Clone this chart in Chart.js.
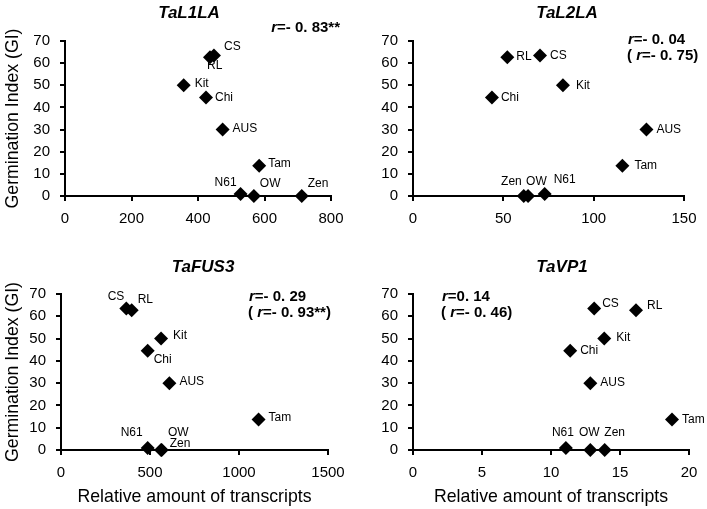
<!DOCTYPE html>
<html>
<head>
<meta charset="utf-8">
<script src="https://cdn.jsdelivr.net/npm/chart.js@4/dist/chart.umd.min.js"></script>
<style>
  html, body { margin: 0; padding: 0; background: #fff; }
  #wrap { position: relative; width: 707px; height: 509px; overflow: hidden; }
  #wrap canvas { position: absolute; left: 0; top: 0; pointer-events: none; }
</style>
</head>
<body>
<div id="wrap">
  <canvas id="c1" width="707" height="509"></canvas>
  <canvas id="c2" width="707" height="509"></canvas>
  <canvas id="c3" width="707" height="509"></canvas>
  <canvas id="c4" width="707" height="509"></canvas>
</div>
<script>
// ---------- data ----------
const cultivars = ['CS', 'RL', 'Kit', 'Chi', 'AUS', 'Tam', 'N61', 'OW', 'Zen'];
const germinationIndex = [63.5, 62.7, 50, 44.5, 30, 13.7, 0.9, 0, 0];
const taL1LA = [448, 436, 357, 424, 474, 584, 528, 568, 712];
const taL2LA = [70.3, 52.2, 83, 43.7, 129.2, 115.9, 72.9, 63.7, 61.3];
const taFUS3 = [367, 397, 562, 487, 609, 1110, 487, 562, 566];
const taVP1 = [13.13, 16.16, 13.86, 11.39, 12.85, 18.77, 11.08, 12.85, 13.89];
const geneNames = ['TaL1LA', 'TaL2LA', 'TaFUS3', 'TaVP1'];
const rMain = ['=- 0. 83**', '=- 0. 04', '=- 0. 29', '=0. 14'];
const rAlt = [null, '=- 0. 75)', '=- 0. 93**)', '=- 0. 46)'];
const xTickSteps = [200, 50, 500, 5];
const xMaxima = [800, 150, 1500, 20];
const yTickStep = 10;
const yMax = 70;
const yAxisTitle = 'Germination Index (GI)';
const xAxisTitle = 'Relative amount of transcripts';

// ---------- layout / style ----------
const FONT = "'Liberation Sans', Arial, sans-serif";
const LABEL_FONT = "'Liberation Sans Narrow', 'Liberation Sans', Arial, sans-serif";
const panels = [
  { area: [65, 331, 41, 196], title: [189, 13], ann: [340, 28, 'right'], yTitle: true, xTitle: false },
  { area: [413, 684, 41, 196], title: [567, 13], ann: [628, 40, 'left'], yTitle: false, xTitle: false },
  { area: [61, 328, 294, 450], title: [203, 267], ann: [249, 297, 'left'], yTitle: true, xTitle: true },
  { area: [413, 689, 294, 450], title: [562, 267], ann: [442, 297, 'left'], yTitle: false, xTitle: true }
];
// label offsets relative to each point: [dx, dy, align]
const labelOffsets = [
  [[10,-9,'left'],[-3,9,'left'],[11,-2,'left'],[9,0,'left'],[10,-1,'left'],[9,-2,'left'],[-4,-11,'right'],[6,-12,'left'],[6,-12,'left']],
  [[10,0,'left'],[9,0,'left'],[13,0,'left'],[9,0,'left'],[10,0,'left'],[12,0,'left'],[9,-14,'left'],[-2,-14,'left'],[-2,-14,'right']],
  [[-2,-12,'right'],[6,-11,'left'],[12,-3,'left'],[6,9,'left'],[10,-1,'left'],[10,-2,'left'],[-5,-15,'right'],[7,-17,'left'],[8,-6,'left']],
  [[8,-5,'left'],[11,-5,'left'],[12,-1,'left'],[10,0,'left'],[10,0,'left'],[10,0,'left'],[-3,-15,'center'],[-1,-17,'center'],[10,-17,'center']]
];
const xSeries = [taL1LA, taL2LA, taFUS3, taVP1];

const Y_W = 40, X_H = 30, W = 707, H = 509;

function drawSegments(ctx, segs, x, y, align) {
  let total = 0;
  const widths = segs.map(s => {
    ctx.font = (s[1] ? 'italic ' : '') + 'bold 15px ' + FONT;
    const w = ctx.measureText(s[0]).width; total += w; return w;
  });
  let cx = align === 'right' ? x - total : x;
  ctx.textAlign = 'left';
  ctx.textBaseline = 'middle';
  segs.forEach((s, i) => {
    ctx.font = (s[1] ? 'italic ' : '') + 'bold 15px ' + FONT;
    ctx.fillText(s[0], cx, y);
    cx += widths[i];
  });
}

function makeChart(idx) {
  const p = panels[idx];
  const [L, R, T, B] = p.area;
  const pts = xSeries[idx].map((x, i) => ({ x: x, y: germinationIndex[i] }));

  const decor = {
    id: 'decor' + idx,
    afterDatasetsDraw(chart) {
      const ctx = chart.ctx;
      ctx.save();
      ctx.fillStyle = '#000';
      const meta = chart.getDatasetMeta(0);
      ctx.font = '12px ' + LABEL_FONT;
      ctx.textBaseline = 'middle';
      meta.data.forEach((el, i) => {
        const o = labelOffsets[idx][i];
        ctx.textAlign = o[2];
        ctx.fillText(cultivars[i], el.x + o[0], el.y + o[1]);
      });
      ctx.font = 'italic bold 17px ' + FONT;
      ctx.textAlign = 'center';
      ctx.fillText(geneNames[idx], p.title[0], p.title[1]);
      drawSegments(ctx, [['r', true], [rMain[idx], false]], p.ann[0], p.ann[1], p.ann[2]);
      if (rAlt[idx]) {
        drawSegments(ctx, [['( ', false], ['r', true], [rAlt[idx], false]], p.ann[0] - 1, p.ann[1] + 16, p.ann[2]);
      }
      ctx.font = '17.7px ' + FONT;
      ctx.textAlign = 'center';
      if (p.yTitle) {
        ctx.save();
        ctx.translate(13, (T + B) / 2);
        ctx.rotate(-Math.PI / 2);
        ctx.fillText(yAxisTitle, 0, 0);
        ctx.restore();
      }
      if (p.xTitle) {
        ctx.fillText(xAxisTitle, (L + R) / 2, 497);
      }
      ctx.restore();
    }
  };

  const fixY = s => { s.width = Y_W; s.paddingLeft = s.paddingRight = s.paddingTop = s.paddingBottom = 0; };
  const fixX = s => { s.height = X_H; s.paddingLeft = s.paddingRight = s.paddingTop = s.paddingBottom = 0; };

  return new Chart(document.getElementById('c' + (idx + 1)), {
    type: 'scatter',
    data: {
      datasets: [{
        data: pts,
        pointStyle: 'rectRot',
        pointRadius: 7,
        pointHoverRadius: 7,
        backgroundColor: '#000',
        borderColor: '#000',
        borderWidth: 0,
        clip: false
      }]
    },
    options: {
      responsive: false,
      animation: false,
      events: [],
      layout: { padding: { left: L - Y_W, right: W - R, top: T, bottom: H - B - X_H } },
      plugins: { legend: { display: false }, tooltip: { enabled: false }, title: { display: false } },
      scales: {
        x: {
          type: 'linear', position: 'bottom', min: 0, max: xMaxima[idx],
          ticks: { stepSize: xTickSteps[idx], color: '#000', font: { family: FONT, size: 15 }, padding: 9, maxRotation: 0,
                   callback: v => String(v) },
          grid: { drawOnChartArea: false, drawTicks: true, tickLength: 5, color: '#000', lineWidth: 2 },
          border: { display: true, color: '#000', width: 2 },
          afterFit: fixX
        },
        y: {
          type: 'linear', position: 'left', min: 0, max: yMax,
          ticks: { stepSize: yTickStep, color: '#000', font: { family: FONT, size: 15 }, padding: 10,
                   callback: v => String(v) },
          grid: { drawOnChartArea: false, drawTicks: true, tickLength: 5, color: '#000', lineWidth: 2 },
          border: { display: true, color: '#000', width: 2 },
          afterFit: fixY
        }
      }
    },
    plugins: [decor]
  });
}

[0, 1, 2, 3].forEach(makeChart);
</script>
</body>
</html>
